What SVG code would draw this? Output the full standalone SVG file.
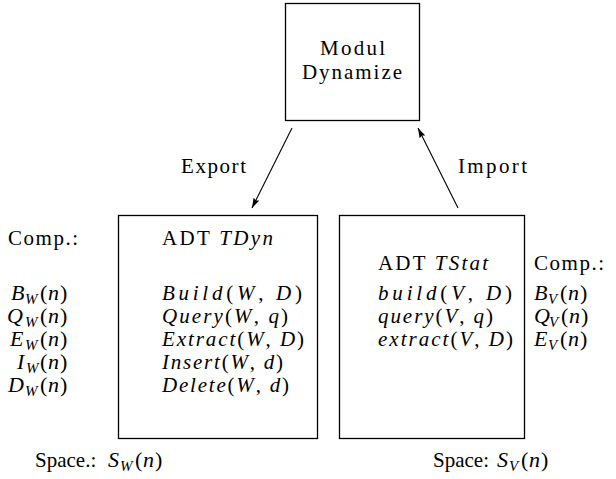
<svg xmlns="http://www.w3.org/2000/svg" width="616" height="479" viewBox="0 0 616 479">
<style>
text{font-family:"Liberation Serif","Times New Roman",serif;font-size:21px;fill:#000}
.i{font-style:italic}
.m{font-size:22px}
.s{font-size:15px;font-style:italic}
rect{fill:none;stroke:#000;stroke-width:1.3}
.c{stroke:#000;stroke-width:1.1;fill:none}
</style>
<defs>
<marker id="ah" viewBox="0 0 10 8" refX="10" refY="4" markerWidth="10" markerHeight="8" markerUnits="userSpaceOnUse" orient="auto">
<path d="M0,0.8 L10,4 L0,7.2 L1.5,4 Z" fill="#000"/>
</marker>
</defs>
<g id="modul">
<rect x="285.5" y="3.5" width="134" height="117"/>
<text x="320" y="55" textLength="65" lengthAdjust="spacing">Modul</text>
<text x="302" y="79" textLength="100" lengthAdjust="spacing">Dynamize</text>
</g>
<g id="connectors">
<line class="c" x1="292" y1="128" x2="252" y2="208" marker-end="url(#ah)"/>
<line class="c" x1="458" y1="208" x2="418" y2="128" marker-end="url(#ah)"/>
<text x="181" y="173" textLength="65" lengthAdjust="spacing">Export</text>
<text x="458" y="173" textLength="69" lengthAdjust="spacing">Import</text>
</g>
<g id="tdyn">
<rect x="118.5" y="215.5" width="199" height="223"/>
<text x="162" y="245" textLength="111" lengthAdjust="spacing">ADT <tspan class="i">TDyn</tspan></text>
<text x="162" y="300" textLength="140" lengthAdjust="spacing"><tspan class="i">Build</tspan>(<tspan class="i">W</tspan>, <tspan class="i">D</tspan>)</text>
<text x="162" y="323" textLength="126" lengthAdjust="spacing"><tspan class="i">Query</tspan>(<tspan class="i">W</tspan>, <tspan class="i">q</tspan>)</text>
<text x="162" y="346" textLength="142" lengthAdjust="spacing"><tspan class="i">Extract</tspan>(<tspan class="i">W</tspan>, <tspan class="i">D</tspan>)</text>
<text x="162" y="369" textLength="121" lengthAdjust="spacing"><tspan class="i">Insert</tspan>(<tspan class="i">W</tspan>, <tspan class="i">d</tspan>)</text>
<text x="162" y="392" textLength="127" lengthAdjust="spacing"><tspan class="i">Delete</tspan>(<tspan class="i">W</tspan>, <tspan class="i">d</tspan>)</text>
</g>
<g id="comp-w">
<text x="8" y="245" textLength="70" lengthAdjust="spacing">Comp.:</text>
<text class="m" y="300"><tspan class="i" x="11">B</tspan><tspan class="s" x="25" dy="4">W</tspan><tspan x="40" dy="-4">(</tspan><tspan class="i" x="48">n</tspan><tspan x="60">)</tspan></text>
<text class="m" y="323"><tspan class="i" x="7">Q</tspan><tspan class="s" x="25" dy="4">W</tspan><tspan x="40" dy="-4">(</tspan><tspan class="i" x="48">n</tspan><tspan x="60">)</tspan></text>
<text class="m" y="346"><tspan class="i" x="10">E</tspan><tspan class="s" x="25" dy="4">W</tspan><tspan x="40" dy="-4">(</tspan><tspan class="i" x="48">n</tspan><tspan x="60">)</tspan></text>
<text class="m" y="369"><tspan class="i" x="17">I</tspan><tspan class="s" x="26" dy="4">W</tspan><tspan x="40" dy="-4">(</tspan><tspan class="i" x="48">n</tspan><tspan x="60">)</tspan></text>
<text class="m" y="392"><tspan class="i" x="8">D</tspan><tspan class="s" x="25" dy="4">W</tspan><tspan x="40" dy="-4">(</tspan><tspan class="i" x="48">n</tspan><tspan x="60">)</tspan></text>
<text y="467"><tspan x="35">Space.:</tspan><tspan class="i m" x="108">S</tspan><tspan class="s" x="120" dy="4">W</tspan><tspan class="m" x="135" dy="-4">(</tspan><tspan class="i m" x="143">n</tspan><tspan class="m" x="155">)</tspan></text>
</g>
<g id="tstat">
<rect x="339.5" y="215.5" width="185" height="223"/>
<text x="378" y="270" textLength="110" lengthAdjust="spacing">ADT <tspan class="i">TStat</tspan></text>
<text x="378" y="300" textLength="134" lengthAdjust="spacing"><tspan class="i">build</tspan>(<tspan class="i">V</tspan>, <tspan class="i">D</tspan>)</text>
<text x="378" y="323" textLength="115" lengthAdjust="spacing"><tspan class="i">query</tspan>(<tspan class="i">V</tspan>, <tspan class="i">q</tspan>)</text>
<text x="378" y="346" textLength="135" lengthAdjust="spacing"><tspan class="i">extract</tspan>(<tspan class="i">V</tspan>, <tspan class="i">D</tspan>)</text>
</g>
<g id="comp-v">
<text x="534" y="270" textLength="70" lengthAdjust="spacing">Comp.:</text>
<text class="m" y="300"><tspan class="i" x="534">B</tspan><tspan class="s" x="548" dy="4">V</tspan><tspan x="560" dy="-4">(</tspan><tspan class="i" x="568">n</tspan><tspan x="580">)</tspan></text>
<text class="m" y="323"><tspan class="i" x="534">Q</tspan><tspan class="s" x="549" dy="4">V</tspan><tspan x="561" dy="-4">(</tspan><tspan class="i" x="569">n</tspan><tspan x="581">)</tspan></text>
<text class="m" y="346"><tspan class="i" x="534">E</tspan><tspan class="s" x="548" dy="4">V</tspan><tspan x="560" dy="-4">(</tspan><tspan class="i" x="568">n</tspan><tspan x="580">)</tspan></text>
<text y="467"><tspan x="433">Space:</tspan><tspan class="i m" x="497">S</tspan><tspan class="s" x="509" dy="4">V</tspan><tspan class="m" x="521" dy="-4">(</tspan><tspan class="i m" x="529">n</tspan><tspan class="m" x="541">)</tspan></text>
</g>
</svg>
